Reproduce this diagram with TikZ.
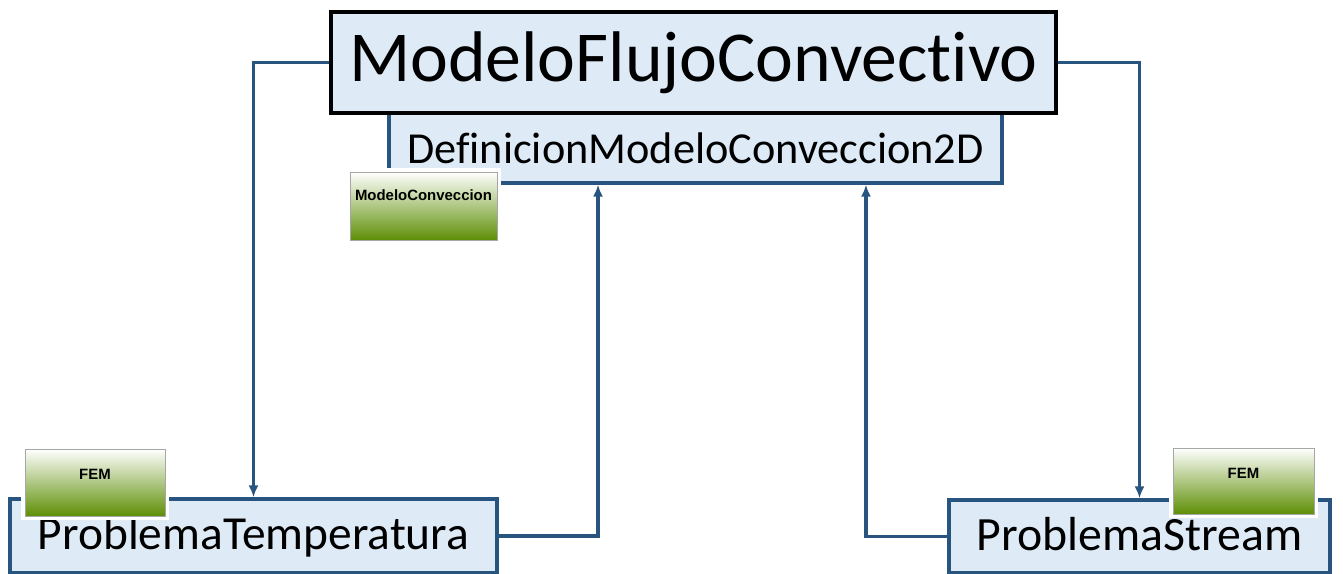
\documentclass[tikz,border=0pt]{standalone}
\usepackage{fontspec}
\setmainfont{Carlito}[Ligatures=NoCommon]
\newfontfamily\badgefont{Liberation Sans}
\usepackage{tikz}
\usetikzlibrary{arrows.meta,positioning,calc}
\definecolor{flujo-fill}{RGB}{222,235,247}
\definecolor{flujo-blue}{RGB}{40,84,128}
\definecolor{flujo-green}{RGB}{94,143,6}

\begin{document}
\begin{tikzpicture}[x=0.02cm, y=-0.02cm,
  every node/.style={inner sep=0pt},
  modelbox/.style={draw=flujo-blue, fill=flujo-fill, line width=0.065cm},
  badge/.style={draw=gray!70, line width=0.5pt, top color=white, bottom color=flujo-green,
    preaction={draw=white, line width=0.16cm}, font=\badgefont\bfseries\fontsize{8.5}{10}\selectfont},
  conn/.style={flujo-blue, line width=0.07cm, -{Latex[length=0.24cm,width=0.2cm]}}]
  \useasboundingbox (0,0) rectangle (1343,574);

  % Modelo principal
  \node[modelbox, minimum width=12.26cm, minimum height=1.4cm, font=\fontsize{25.2}{30}\selectfont] (def) at (695.5,148) {DefinicionModeloConveccion2D};
  \node[draw=black, fill=flujo-fill, line width=0.08cm, minimum width=14.5cm, minimum height=2.02cm, font=\fontsize{40.8}{48}\selectfont] (top) at (693.5,62.5) {ModeloFlujoConvectivo};
  \node[badge, minimum width=2.94cm, text height=0.58cm, text depth=0.78cm] (mc) at (423.5,206) {ModeloConveccion};

  % Problemas
  \node[modelbox, minimum width=9.74cm, text height=1.02cm, text depth=0.46cm, font=\fontsize{27}{32}\selectfont] (temp) at (253.5,536) {ProblemaTemperatura};
  \node[modelbox, minimum width=7.62cm, text height=1.02cm, text depth=0.44cm, font=\fontsize{27.2}{32}\selectfont] (stream) at (1139.5,536.5) {ProblemaStream};
  \node[badge, minimum width=2.8cm, text height=0.6cm, text depth=0.74cm] (femT) at (95,482.5) {FEM};
  \node[badge, minimum width=2.82cm, text height=0.6cm, text depth=0.72cm] (femS) at (1243.5,481) {FEM};

  % Conexiones
  \draw[conn] (top.west) -| (temp.north);
  \draw[conn] (top.east) -| (stream.north);
  \draw[conn] (temp.east) -| ([xshift=-1.95cm]def.south);
  \draw[conn] (stream.west) -| ([xshift=3.41cm]def.south);
\end{tikzpicture}
\end{document}
